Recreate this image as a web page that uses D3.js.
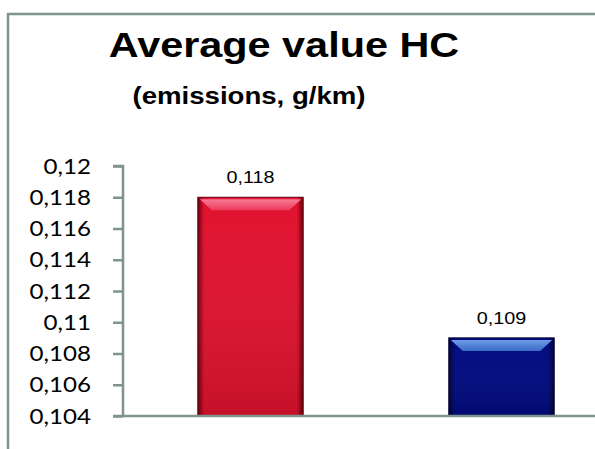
<!DOCTYPE html>
<html>
<head>
<meta charset="utf-8">
<script src="https://cdn.jsdelivr.net/npm/d3@7"></script>
<style>
  html, body { margin: 0; padding: 0; background: #fff; }
  svg { display: block; }
</style>
</head>
<body>
<svg id="chart" width="595" height="449"></svg>
<script>
// ---- data ----
const categories = ["Series 1", "Series 2"];
const values = [0.118, 0.109];
const tickValues = [0.104, 0.106, 0.108, 0.110, 0.112, 0.114, 0.116, 0.118, 0.120];
const yDomain = [0.104, 0.120];
const titleText = "Average value HC";
const subtitleText = "(emissions, g/km)";

// ---- styles ----
const axisColor = "#7f9391";
const barStyles = [
  { edge: "#6a000c", main: "#e0122e", mainBottom: "#b80818", hiA: "#f77a94", hiB: "#ee3a5c" },
  { edge: "#000030", main: "#000a80", mainBottom: "#00066c", hiA: "#6b9be6", hiB: "#3a6cc8" }
];
const sx = 1.2; // horizontal stretch of text in the reference

const svg = d3.select("#chart");
const defs = svg.append("defs");

// outer border (cut off at right and bottom)
svg.append("rect")
  .attr("x", 8).attr("y", 14)
  .attr("width", 640).attr("height", 500)
  .attr("fill", "none")
  .attr("stroke", axisColor)
  .attr("stroke-width", 2.5);

// titles
svg.append("text")
  .attr("transform", "translate(284,57) scale(1.15,1)")
  .attr("text-anchor", "middle")
  .attr("font-family", "'Liberation Sans', Arial, sans-serif")
  .attr("font-weight", "bold")
  .attr("font-size", 36)
  .attr("fill", "#000")
  .text(titleText);

svg.append("text")
  .attr("transform", "translate(249,104) scale(1.15,1)")
  .attr("text-anchor", "middle")
  .attr("font-family", "'Liberation Sans', Arial, sans-serif")
  .attr("font-weight", "bold")
  .attr("font-size", 24)
  .attr("fill", "#000")
  .text(subtitleText);

// scales
const y = d3.scaleLinear().domain(yDomain).range([416, 166]);
const x = d3.scaleBand().domain(categories).range([125, 627])
  .paddingInner(0.58).paddingOuter(0.29);

const fmt = v => String(+v.toFixed(3)).replace(".", ",");

// y axis
const yAxis = svg.append("g").attr("transform", "translate(123,0)")
  .call(d3.axisLeft(y).tickValues(tickValues).tickSize(10).tickFormat(""));
yAxis.select(".domain").attr("stroke", axisColor).attr("stroke-width", 2.5)
  .attr("d", `M-10,${y(yDomain[1])}H0V${y(yDomain[0])}`);
yAxis.selectAll(".tick line").attr("stroke", axisColor).attr("stroke-width", 2.5);

// tick labels (stretched)
svg.append("g").selectAll("text")
  .data(tickValues).join("text")
  .attr("transform", d => `translate(91,${y(d)}) scale(1.15,1)`)
  .attr("dy", "0.36em")
  .attr("text-anchor", "end")
  .attr("font-family", "Lato, 'Open Sans', sans-serif")
  .attr("font-size", 21)
  .attr("fill", "#000")
  .text(fmt);

// gradients
barStyles.forEach((s, i) => {
  const gh = defs.append("linearGradient").attr("id", "gh" + i)
    .attr("x1", 0).attr("x2", 1).attr("y1", 0).attr("y2", 0);
  gh.append("stop").attr("offset", 0).attr("stop-color", s.edge);
  gh.append("stop").attr("offset", 0.06).attr("stop-color", s.main);
  gh.append("stop").attr("offset", 0.94).attr("stop-color", s.main);
  gh.append("stop").attr("offset", 1).attr("stop-color", s.edge);

  const gv = defs.append("linearGradient").attr("id", "gv" + i)
    .attr("x1", 0).attr("x2", 0).attr("y1", 0).attr("y2", 1);
  gv.append("stop").attr("offset", 0).attr("stop-color", "#fff").attr("stop-opacity", 0.0);
  gv.append("stop").attr("offset", 1).attr("stop-color", "#000").attr("stop-opacity", 0.12);

  const gt = defs.append("linearGradient").attr("id", "gt" + i)
    .attr("x1", 0).attr("x2", 0).attr("y1", 0).attr("y2", 1);
  gt.append("stop").attr("offset", 0).attr("stop-color", s.hiA);
  gt.append("stop").attr("offset", 1).attr("stop-color", s.hiB);
});

// bars
const bars = svg.append("g").selectAll("g")
  .data(values.map((v, i) => ({ v, c: categories[i], i }))).join("g");

bars.append("rect")
  .attr("x", d => x(d.c)).attr("y", d => y(d.v))
  .attr("width", x.bandwidth()).attr("height", d => y(yDomain[0]) - y(d.v))
  .attr("fill", d => `url(#gh${d.i})`);

bars.append("rect")
  .attr("x", d => x(d.c)).attr("y", d => y(d.v))
  .attr("width", x.bandwidth()).attr("height", d => y(yDomain[0]) - y(d.v))
  .attr("fill", d => `url(#gv${d.i})`);

// bevel highlight on top
bars.append("path")
  .attr("d", d => {
    const x0 = x(d.c), x1 = x0 + x.bandwidth(), t = y(d.v);
    return `M${x0 + 2},${t + 2}H${x1 - 2}L${x1 - 14},${t + 13}H${x0 + 14}Z`;
  })
  .attr("fill", d => `url(#gt${d.i})`);

bars.append("rect")
  .attr("x", d => x(d.c)).attr("y", d => y(d.v))
  .attr("width", x.bandwidth()).attr("height", d => y(yDomain[0]) - y(d.v))
  .attr("fill", "none")
  .attr("stroke", d => barStyles[d.i].edge)
  .attr("stroke-width", 1);

// value labels
svg.append("g").selectAll("text")
  .data(values.map((v, i) => ({ v, c: categories[i] }))).join("text")
  .attr("transform", d => `translate(${x(d.c) + x.bandwidth() / 2},${y(d.v) - 14}) scale(${sx},1)`)
  .attr("text-anchor", "middle")
  .attr("font-family", "'Liberation Sans', Arial, sans-serif")
  .attr("font-size", 16.5)
  .attr("fill", "#000")
  .text(d => fmt(d.v));

// x baseline
svg.append("line")
  .attr("x1", 113).attr("x2", 595)
  .attr("y1", y(yDomain[0])).attr("y2", y(yDomain[0]))
  .attr("stroke", axisColor).attr("stroke-width", 2.5);
</script>
</body>
</html>
